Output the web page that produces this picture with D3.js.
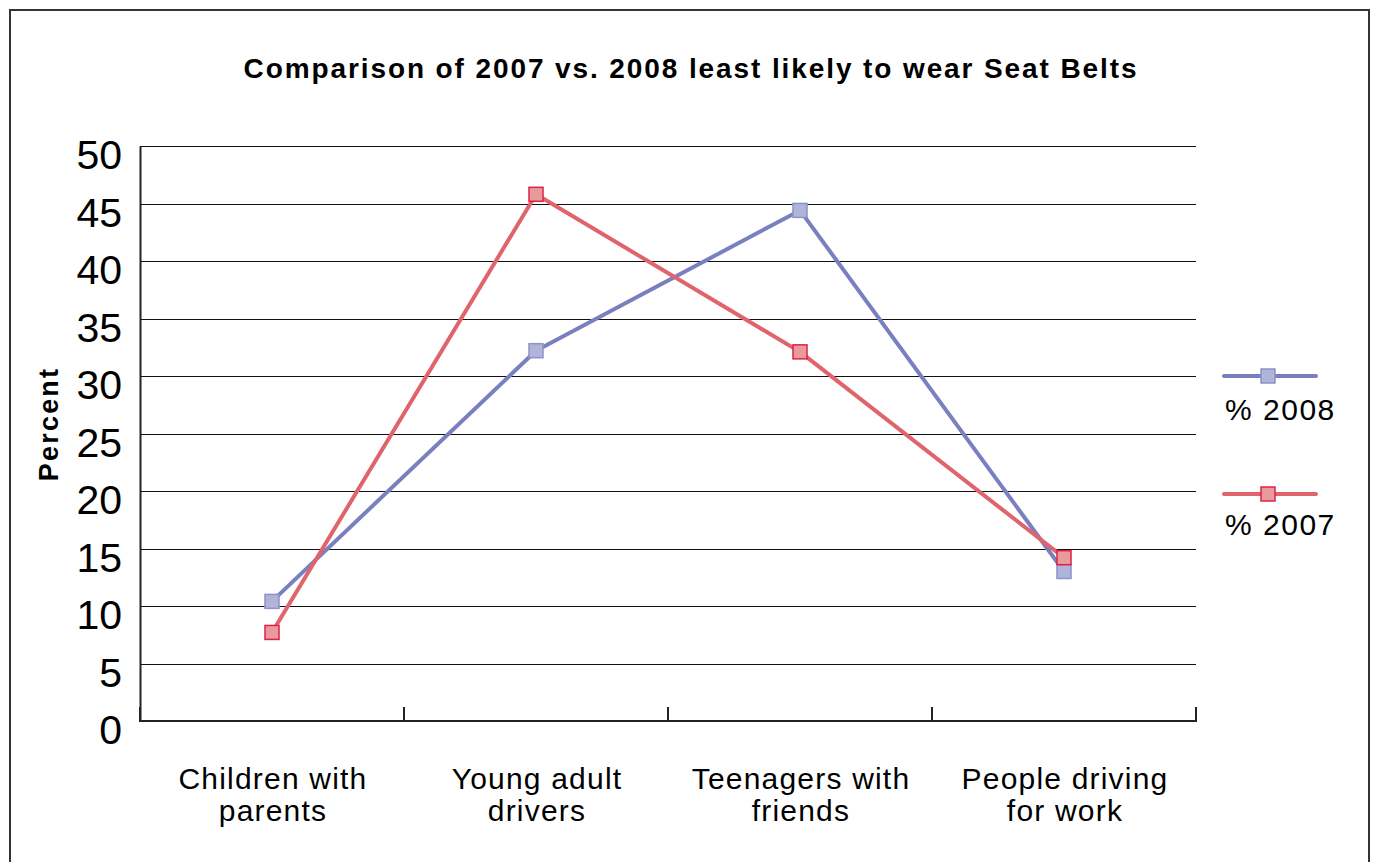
<!DOCTYPE html>
<html>
<head>
<meta charset="utf-8">
<script src="https://cdn.jsdelivr.net/npm/d3@7"></script>
<style>
  html, body { margin: 0; padding: 0; background: #fff; }
  svg { display: block; font-family: "Liberation Sans", Arial, Helvetica, sans-serif; }
</style>
</head>
<body>
<svg id="chart" width="1376" height="862"></svg>
<script>
// Survey categories (two-line labels)
const categories = [
  ["Children with", "parents"],
  ["Young adult", "drivers"],
  ["Teenagers with", "friends"],
  ["People driving", "for work"]
];
// Percent least likely to wear seat belts
const values2008 = [10.4, 32.2, 44.4, 13.0];
const values2007 = [7.7, 45.8, 32.1, 14.2];
const seriesNames = ["% 2008", "% 2007"];
const yTicks = [0, 5, 10, 15, 20, 25, 30, 35, 40, 45, 50];

const svg = d3.select("#chart");
const plot = { left: 140, right: 1196, top: 146, bottom: 721 };

const colors = {
  "% 2008": { line: "#7a80bf", fill: "#b1b4d9", stroke: "#8d92c8" },
  "% 2007": { line: "#e0646b", fill: "#e99a9a", stroke: "#e0204c" }
};

// outer frame
svg.append("rect")
  .attr("x", 10).attr("y", 10)
  .attr("width", 1359).attr("height", 870)
  .attr("fill", "none").attr("stroke", "#333").attr("stroke-width", 2);

const x = d3.scaleBand()
  .domain(d3.range(categories.length))
  .range([plot.left, plot.right])
  .padding(0);

const y = d3.scaleLinear()
  .domain([0, 50])
  .range([plot.bottom, plot.top]);

// horizontal grid lines
svg.append("g")
  .attr("shape-rendering", "crispEdges")
  .selectAll("line")
  .data(yTicks.filter(t => t > 0))
  .join("line")
  .attr("x1", plot.left).attr("x2", plot.right)
  .attr("y1", d => Math.round(y(d)) + 0.5).attr("y2", d => Math.round(y(d)) + 0.5)
  .attr("stroke", "#111").attr("stroke-width", 1);

// y axis
const yAxis = svg.append("g")
  .attr("transform", `translate(${plot.left},0)`)
  .call(d3.axisLeft(y).tickValues(yTicks).tickSize(0).tickPadding(18));
yAxis.select(".domain").attr("stroke", "#222").attr("stroke-width", 2);
yAxis.selectAll("text")
  .attr("font-size", 41)
  .attr("fill", "#000")
  .attr("dy", "0.55em");

// x axis (ticks point up into the plot)
const xAxis = svg.append("g")
  .attr("transform", `translate(0,${plot.bottom})`)
  .call(d3.axisBottom(x).tickSize(0).tickFormat(""));
xAxis.select(".domain").remove();
xAxis.append("line")
  .attr("x1", plot.left - 1).attr("x2", plot.right + 1)
  .attr("stroke", "#222").attr("stroke-width", 2);
xAxis.selectAll(".sep")
  .data(d3.range(categories.length + 1))
  .join("line")
  .attr("class", "sep")
  .attr("x1", i => plot.left + i * x.bandwidth())
  .attr("x2", i => plot.left + i * x.bandwidth())
  .attr("y1", -14).attr("y2", 0)
  .attr("stroke", "#222").attr("stroke-width", 2);

// category labels
const catLabels = svg.append("g")
  .selectAll("text")
  .data(categories)
  .join("text")
  .attr("text-anchor", "middle")
  .attr("font-size", 30)
  .attr("letter-spacing", 1.2)
  .attr("fill", "#000")
  .attr("x", (d, i) => x(i) + x.bandwidth() / 2 + 1)
  .attr("y", 789);
catLabels.selectAll("tspan")
  .data(d => d)
  .join("tspan")
  .attr("x", function () { return d3.select(this.parentNode).attr("x"); })
  .attr("dy", (d, i) => i === 0 ? 0 : 32)
  .text(d => d);

// title
svg.append("text")
  .attr("x", 691).attr("y", 78)
  .attr("text-anchor", "middle")
  .attr("font-size", 28)
  .attr("font-weight", "bold")
  .attr("letter-spacing", 1.9)
  .text("Comparison of 2007 vs. 2008 least likely to wear Seat Belts");

// y axis title
svg.append("text")
  .attr("transform", "translate(58,424) rotate(-90)")
  .attr("text-anchor", "middle")
  .attr("font-size", 27)
  .attr("font-weight", "bold")
  .attr("letter-spacing", 2.2)
  .text("Percent");

// series lines and markers
const series = [
  { name: seriesNames[0], values: values2008 },
  { name: seriesNames[1], values: values2007 }
];
const line = d3.line()
  .x((d, i) => x(i) + x.bandwidth() / 2)
  .y(d => y(d));

const mk = 14;
series.forEach(s => {
  const c = colors[s.name];
  svg.append("path")
    .datum(s.values)
    .attr("d", line)
    .attr("fill", "none")
    .attr("stroke", c.line)
    .attr("stroke-width", 4)
    .attr("stroke-linejoin", "round");
});
series.forEach(s => {
  const c = colors[s.name];
  svg.append("g")
    .selectAll("rect")
    .data(s.values)
    .join("rect")
    .attr("x", (d, i) => x(i) + x.bandwidth() / 2 - mk / 2)
    .attr("y", d => y(d) - mk / 2)
    .attr("width", mk).attr("height", mk)
    .attr("fill", c.fill)
    .attr("stroke", c.stroke)
    .attr("stroke-width", 1.5);
});

// legend
const legendY = [376, 494];
const legendTextY = [420, 535];
series.forEach((s, i) => {
  const c = colors[s.name];
  const g = svg.append("g");
  g.append("line")
    .attr("x1", 1224).attr("x2", 1316)
    .attr("y1", legendY[i]).attr("y2", legendY[i])
    .attr("stroke", c.line).attr("stroke-width", 4)
    .attr("stroke-linecap", "round");
  g.append("rect")
    .attr("x", 1268 - mk / 2).attr("y", legendY[i] - mk / 2)
    .attr("width", mk).attr("height", mk)
    .attr("fill", c.fill).attr("stroke", c.stroke).attr("stroke-width", 1.5);
  g.append("text")
    .attr("x", 1225).attr("y", legendTextY[i])
    .attr("font-size", 30)
    .attr("letter-spacing", 1.5)
    .attr("fill", "#000")
    .text(s.name);
});
</script>
</body>
</html>
